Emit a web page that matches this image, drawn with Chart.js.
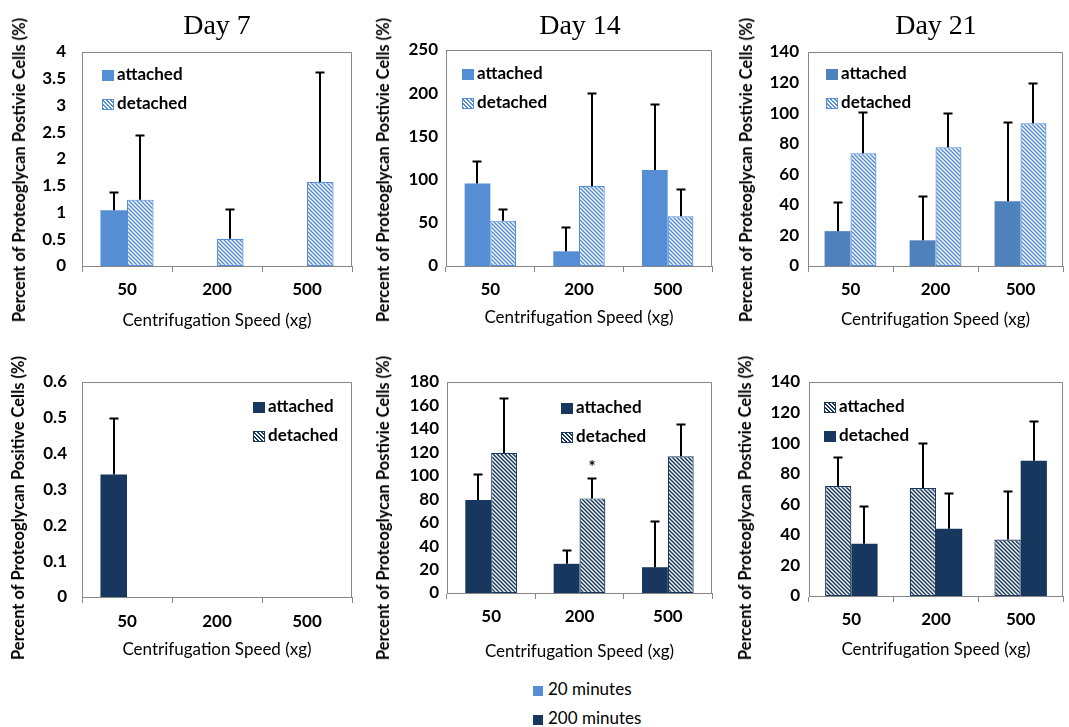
<!DOCTYPE html>
<html>
<head>
<meta charset="utf-8">
<script src="https://cdn.jsdelivr.net/npm/chart.js@4.4.1/dist/chart.umd.min.js"></script>
<style>
  body { margin: 0; background: #fff; }
  #wrap { position: relative; width: 1069px; height: 727px; overflow: hidden; font-family: Lato, sans-serif; color: #000; }
  canvas { position: absolute; }
  .day { position: absolute; font: 28px "Liberation Serif", serif; transform: translateX(-50%); line-height: 28px; white-space: nowrap; }
  .ytitle { position: absolute; font: bold 16.5px Lato, sans-serif; white-space: nowrap; transform: translate(-50%, -50%) rotate(-90deg); }
  .lg { position: absolute; font: bold 17px Lato, sans-serif; line-height: 29px; white-space: nowrap; }
  .lg.time { font-weight: normal; }
  .lg i { display: inline-block; width: 12px; height: 11px; margin-right: 3px; vertical-align: -1px; box-sizing: border-box; }
  .lg.time i { width: 10px; height: 10px; margin-right: 5px; }
</style>
</head>
<body>
<div id="wrap"></div>
<script>
const speeds = ['50', '200', '500'];
const seriesNames = ['attached', 'detached'];
const timeNames = ['20 minutes', '200 minutes'];
const dayNames = ['Day 7', 'Day 14', 'Day 21'];
const xTitle = 'Centrifugation Speed (xg)';
const yTitles = [
  'Percent of Proteoglycan Postivie Cells (%)', 'Percent of Proteoglycan Postivie Cells (%)', 'Percent of Proteoglycan Postivie Cells (%)',
  'Percent of Proteoglycan Positive Cells (%)', 'Percent of Proteoglycan Postivie Cells (%)', 'Percent of Proteoglycan Postivie Cells (%)'
];

// y axis ticks per panel (top row: 20 min, bottom row: 200 min)
const yMaxes = [4, 250, 140, 0.6, 180, 140];
const ySteps = [0.5, 50, 20, 0.1, 20, 20];

// Day 7
const d7min20Att = [1.04, 0, 0];
const d7min20AttErr = [1.39, null, null];
const d7min20Det = [1.24, 0.51, 1.57];
const d7min20DetErr = [2.45, 1.06, 3.62];
const d7min200Att = [0.342, 0, 0];
const d7min200AttErr = [0.5, null, null];
const d7min200Det = [0, 0, 0];
const d7min200DetErr = [null, null, null];

// Day 14
const d14min20Att = [95.4, 17, 111];
const d14min20AttErr = [122, 45, 188];
const d14min20Det = [52.5, 92.7, 57.5];
const d14min20DetErr = [66, 200.5, 89.5];
const d14min200Att = [79.3, 24.9, 22];
const d14min200AttErr = [101.4, 36.8, 61];
const d14min200Det = [119.5, 80.7, 116.7];
const d14min200DetErr = [166.6, 97.7, 144.5];
const d14min200DetSig = ['', '*', ''];

// Day 21
const d21min20Att = [22.8, 16.8, 42.4];
const d21min20AttErr = [42, 46, 94];
const d21min20Det = [73.7, 77.7, 93.4];
const d21min20DetErr = [100.6, 100, 119.7];
const d21min200Att = [72, 70.7, 36.9];
const d21min200AttErr = [90.7, 100, 68.9];
const d21min200Det = [34.2, 44, 88.5];
const d21min200DetErr = [58.9, 67.2, 114.3];

const LIGHT = '#558ED5';
const MID = '#4F81BD';
const NAVY = '#17375E';
const AXIS = '#868686';

// canvas boxes and plot-area edges, in page pixels
const boxes = [
  { x: 0,   y: 0,   w: 360, h: 340, l: 82,  r: 352,  t: 52,  b: 266, yPad: 16, tickY: 290, titleY: 321, cat: 0.59 },
  { x: 360, y: 0,   w: 360, h: 340, l: 446, r: 712,  t: 50,  b: 266, yPad: 8,  tickY: 290, titleY: 318, cat: 0.58 },
  { x: 720, y: 0,   w: 349, h: 340, l: 808, r: 1063, t: 52,  b: 266, yPad: 9,  tickY: 290, titleY: 320, cat: 0.61 },
  { x: 0,   y: 345, w: 360, h: 325, l: 82,  r: 352,  t: 382, b: 597, yPad: 15, tickY: 622, titleY: 650, cat: 0.59 },
  { x: 360, y: 345, w: 360, h: 325, l: 447, r: 712,  t: 382, b: 593, yPad: 8,  tickY: 617, titleY: 652, cat: 0.585 },
  { x: 720, y: 345, w: 349, h: 325, l: 809, r: 1063, t: 382, b: 596, yPad: 9,  tickY: 620, titleY: 650, cat: 0.62 }
];
const yTitlePos = [[19, 170], [383, 170], [746, 170], [18, 508], [383, 508], [745, 508]];
const legendPos = [[102, 59], [462, 58], [826, 58], [253, 391], [561, 392], [824, 391]];

function hatch(color) {
  const c = document.createElement('canvas');
  c.width = c.height = 4;
  const g = c.getContext('2d');
  g.fillStyle = '#fff';
  g.fillRect(0, 0, 4, 4);
  g.strokeStyle = color;
  g.lineWidth = 1.5;
  g.beginPath();
  g.moveTo(-1, -1); g.lineTo(5, 5);
  g.moveTo(-1, 3); g.lineTo(1, 5);
  g.moveTo(3, -1); g.lineTo(5, 1);
  g.stroke();
  return g.createPattern(c, 'repeat');
}

function bars(label, data, err, color, hatched, sig) {
  return {
    label, data, errTop: err, marks: sig, hatched, color,
    backgroundColor: hatched ? hatch(color) : color,
    borderColor: color,
    borderWidth: ctx => (hatched && ctx.raw) ? 1.2 : 0,
    borderSkipped: false
  };
}

// plot area frame (Excel style box)
const frame = {
  id: 'frame',
  beforeDatasetsDraw(chart) {
    const { ctx, chartArea: a } = chart;
    ctx.save();
    ctx.strokeStyle = AXIS;
    ctx.lineWidth = 1;
    ctx.beginPath();
    ctx.moveTo(a.left, a.top + 0.5); ctx.lineTo(a.right - 0.5, a.top + 0.5); ctx.lineTo(a.right - 0.5, a.bottom);
    ctx.stroke();
    ctx.restore();
  }
};

// upper error bars + significance marks
const errorBars = {
  id: 'errorBars',
  afterDatasetsDraw(chart) {
    const { ctx, scales: { y } } = chart;
    ctx.save();
    chart.data.datasets.forEach((ds, di) => {
      chart.getDatasetMeta(di).data.forEach((bar, i) => {
        const top = ds.errTop ? ds.errTop[i] : null;
        if (top == null) return;
        const yt = Math.round(y.getPixelForValue(top)) + 0.5;
        const x = Math.round(bar.x);
        ctx.strokeStyle = '#000';
        ctx.lineWidth = 2;
        ctx.beginPath();
        ctx.moveTo(x, bar.y); ctx.lineTo(x, yt);
        ctx.moveTo(x - 4.5, yt); ctx.lineTo(x + 4.5, yt);
        ctx.stroke();
        if (ds.marks && ds.marks[i]) {
          ctx.fillStyle = '#000';
          ctx.font = 'bold 17px Lato';
          ctx.textAlign = 'center';
          ctx.textBaseline = 'middle';
          ctx.fillText(ds.marks[i], x, yt - 11);
        }
      });
    });
    ctx.restore();
  }
};

const wrap = document.getElementById('wrap');

function addPanel(i, datasets) {
  const B = boxes[i];
  const cv = document.createElement('canvas');
  cv.width = B.w; cv.height = B.h;
  cv.style.left = B.x + 'px'; cv.style.top = B.y + 'px';
  wrap.appendChild(cv);

  const tickFont = { family: 'Lato', size: 17, weight: 'bold' };
  const titleFont = { family: 'Lato', size: 17 };
  new Chart(cv, {
    type: 'bar',
    data: { labels: speeds, datasets },
    options: {
      responsive: false,
      animation: false,
      categoryPercentage: B.cat,
      barPercentage: 1,
      layout: { padding: { left: 0, top: B.t - B.y, right: B.x + B.w - B.r, bottom: 0 } },
      plugins: { legend: { display: false }, tooltip: { enabled: false } },
      scales: {
        x: {
          grid: { display: true, drawOnChartArea: false, tickLength: 6, color: AXIS },
          border: { color: AXIS },
          ticks: { color: '#000', font: tickFont, padding: B.tickY - B.b - 6 - 10.2 },
          title: { display: true, text: xTitle, color: '#000', font: titleFont, padding: { top: 0, bottom: B.y + B.h - B.titleY - 10.2 } },
          afterFit: s => { s.height = B.y + B.h - B.b; }
        },
        y: {
          min: 0, max: yMaxes[i],
          grid: { display: false, drawTicks: false },
          border: { color: AXIS },
          ticks: {
            stepSize: ySteps[i], color: '#000', font: tickFont, padding: B.yPad,
            callback: v => String(Math.round(v * 100) / 100)
          },
          afterFit: s => { s.width = B.l - B.x; }
        }
      }
    },
    plugins: [frame, errorBars]
  });

  const t = document.createElement('div');
  t.className = 'ytitle';
  t.style.left = yTitlePos[i][0] + 'px';
  t.style.top = yTitlePos[i][1] + 'px';
  t.textContent = yTitles[i];
  wrap.appendChild(t);

  const lg = document.createElement('div');
  lg.className = 'lg';
  lg.style.left = legendPos[i][0] + 'px';
  lg.style.top = legendPos[i][1] + 'px';
  datasets.forEach(ds => {
    const row = document.createElement('div');
    const sw = document.createElement('i');
    sw.style.background = ds.hatched
      ? `repeating-linear-gradient(45deg, ${ds.color} 0 1.2px, #fff 1.2px 2.8px)`
      : ds.color;
    if (ds.hatched) sw.style.border = '1px solid ' + ds.color;
    row.appendChild(sw);
    row.appendChild(document.createTextNode(ds.label));
    lg.appendChild(row);
  });
  wrap.appendChild(lg);
}

addPanel(0, [bars(seriesNames[0], d7min20Att, d7min20AttErr, LIGHT, false), bars(seriesNames[1], d7min20Det, d7min20DetErr, LIGHT, true)]);
addPanel(1, [bars(seriesNames[0], d14min20Att, d14min20AttErr, LIGHT, false), bars(seriesNames[1], d14min20Det, d14min20DetErr, LIGHT, true)]);
addPanel(2, [bars(seriesNames[0], d21min20Att, d21min20AttErr, MID, false), bars(seriesNames[1], d21min20Det, d21min20DetErr, LIGHT, true)]);
addPanel(3, [bars(seriesNames[0], d7min200Att, d7min200AttErr, NAVY, false), bars(seriesNames[1], d7min200Det, d7min200DetErr, NAVY, true)]);
addPanel(4, [bars(seriesNames[0], d14min200Att, d14min200AttErr, NAVY, false), bars(seriesNames[1], d14min200Det, d14min200DetErr, NAVY, true, d14min200DetSig)]);
addPanel(5, [bars(seriesNames[0], d21min200Att, d21min200AttErr, NAVY, true), bars(seriesNames[1], d21min200Det, d21min200DetErr, NAVY, false)]);

// day titles
const dayX = [217, 580, 936];
dayNames.forEach((d, i) => {
  const el = document.createElement('div');
  el.className = 'day';
  el.style.left = dayX[i] + 'px';
  el.style.top = '11px';
  el.textContent = d;
  wrap.appendChild(el);
});

// shared legend for incubation time
const tl = document.createElement('div');
tl.className = 'lg time';
tl.style.left = '533px';
tl.style.top = '674px';
[LIGHT, NAVY].forEach((c, i) => {
  const row = document.createElement('div');
  const sw = document.createElement('i');
  sw.style.background = c;
  row.appendChild(sw);
  row.appendChild(document.createTextNode(timeNames[i]));
  tl.appendChild(row);
});
wrap.appendChild(tl);
</script>
</body>
</html>
